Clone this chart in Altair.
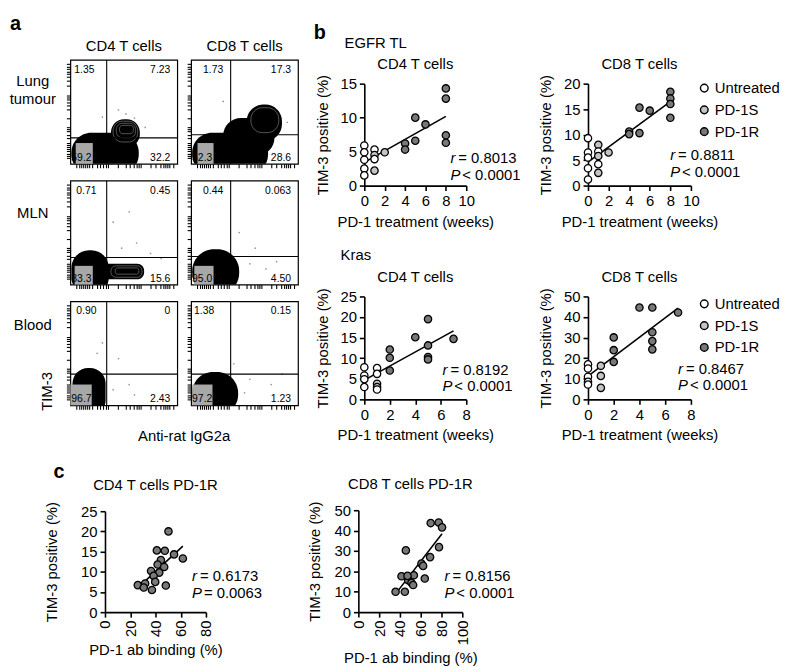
import altair as alt
import pandas as pd

FONT = "Liberation Sans"
GROUPS = ["Untreated", "PD-1S", "PD-1R"]
GROUP_FILLS = ["#ffffff", "#c4c4c4", "#787878"]

# ---------------- panel b : EGFR TL ----------------
egfr_cd4_weeks = [0, 0, 0, 0, 0, 1, 1, 1, 1, 2, 4, 4, 5, 5, 6, 8, 8, 8, 8]
egfr_cd4_tim3 = [5.9, 4.9, 3.8, 2.5, 1.5, 5.3, 4.5, 3.9, 2.2, 4.9, 6.2, 5.3, 10.0, 6.6, 9.0, 14.3, 12.8, 7.4, 6.3]
egfr_cd4_group = ["Untreated"] * 5 + ["Untreated", "PD-1S", "Untreated", "PD-1S", "PD-1S"] + ["PD-1R"] * 9

egfr_cd8_weeks = [0, 0, 0, 0, 0, 1, 1, 1, 1, 1, 2, 4, 4, 5, 5, 6, 8, 8, 8, 8]
egfr_cd8_tim3 = [9.3, 6.5, 5.5, 3.4, 1.2, 8.0, 6.7, 5.8, 4.2, 2.5, 6.5, 10.6, 10.1, 15.3, 10.3, 14.7, 18.4, 17.1, 16.0, 13.3]
egfr_cd8_group = ["Untreated"] * 5 + ["PD-1S", "Untreated", "PD-1S", "Untreated", "PD-1S"] + ["PD-1S"] + ["PD-1R"] * 9

# ---------------- panel b : Kras ----------------
kras_cd4_weeks = [0, 0, 0, 0, 1, 1, 1, 1, 1, 2, 2, 2, 4, 5, 5, 5, 5, 7]
kras_cd4_tim3 = [7.8, 5.8, 4.9, 3.0, 7.6, 6.2, 3.8, 3.0, 2.4, 12.1, 10.1, 7.0, 15.1, 19.5, 13.1, 10.3, 9.7, 14.7]
kras_cd4_group = ["Untreated"] * 4 + ["Untreated", "Untreated", "PD-1S", "PD-1S", "Untreated"] + ["PD-1R"] * 9

kras_cd8_weeks = [0, 0, 0, 0, 0, 1, 1, 1, 2, 2, 2, 4, 5, 5, 5, 5, 7]
kras_cd8_tim3 = [17.0, 15.0, 11.0, 8.5, 7.2, 16.3, 11.4, 5.6, 30.1, 23.9, 18.2, 44.6, 44.6, 32.6, 28.3, 24.3, 42.2]
kras_cd8_group = ["Untreated"] * 5 + ["PD-1S"] * 3 + ["PD-1R"] * 9

# ---------------- panel c : PD-1R ----------------
c_cd4_binding = [50.3, 41.1, 47.4, 54.7, 61.7, 44.3, 41.7, 46.9, 36.5, 43.0, 38.5, 39.8, 26.0, 31.8, 30.7, 37.2, 48.2]
c_cd4_tim3 = [20.0, 15.3, 15.2, 14.3, 13.3, 12.9, 11.8, 11.2, 10.2, 9.8, 9.0, 7.5, 6.7, 7.1, 6.1, 5.5, 6.6]
c_cd8_binding = [35.8, 44.7, 41.5, 45.7, 47.9, 51.1, 53.4, 52.7, 60.7, 62.3, 63.9, 69.0, 69.6, 77.3, 80.5, 77.6, 47.3]
c_cd8_tim3 = [10.0, 10.0, 17.6, 30.3, 15.7, 14.4, 18.1, 13.3, 23.8, 22.7, 16.5, 27.0, 43.7, 44.0, 41.6, 31.9, 17.8]

# ---------------- panel a : flow plots (0-100 display units) ----------------
flow_keys = ["lung_cd4", "lung_cd8", "mln_cd4", "mln_cd8", "blood_cd4", "blood_cd8"]
quad_x = [34, 37, 34, 37, 34, 37]
quad_y = [25, 28, 26, 27, 30, 30]
q_ul = ["1.35", "1.73", "0.71", "0.44", "0.90", "1.38"]
q_ur = ["7.23", "17.3", "0.45", "0.063", "0", "0.15"]
q_ll = ["59.2", "52.3", "83.3", "95.0", "96.7", "97.2"]
q_lr = ["32.2", "28.6", "15.6", "4.50", "2.43", "1.23"]

# dense event populations (outer contour extents)
blob_plot = ["lung_cd4", "lung_cd4", "lung_cd8", "lung_cd8", "lung_cd8",
             "mln_cd4", "mln_cd4", "mln_cd8", "blood_cd4", "blood_cd8"]
blob_x1 = [1, 38, 1, 30, 52, 1, 30, 1, 2, 1]
blob_x2 = [64, 65, 72, 78, 85, 36, 69, 45, 33, 44]
blob_y1 = [-10, 16, -10, 8, 22, -10, 5, -10, -10, -10]
blob_y2 = [30, 43, 30, 44, 57, 33, 20, 34, 36, 32]

# inner contour rings drawn over the populations
ring_plot = ["lung_cd4", "lung_cd4", "lung_cd4", "mln_cd4", "mln_cd4", "lung_cd8"]
ring_x1 = [40, 43, 46, 38, 42, 56]
ring_x2 = [63, 61, 59, 67, 64, 82]
ring_y1 = [21, 25, 29, 7, 10, 30]
ring_y2 = [41, 39, 37, 18, 16, 54]

gray_x1 = [5, 6, 4, 3, 0, 1]
gray_x2 = [21, 21, 21, 21, 20, 20]
gray_y2 = [20, 20, 18, 18, 20, 20]

dot_plot = ["lung_cd4"] * 5 + ["lung_cd8"] * 2 + ["mln_cd4"] * 6 + ["mln_cd8"] * 5 + ["blood_cd4"] * 6 + ["blood_cd8"] * 5
dot_x = [52, 60, 45, 70, 30, 90, 30, 40, 55, 62, 75, 85, 48, 55, 70, 80, 60, 45, 30, 45, 55, 40, 60, 25, 55, 75, 50, 40, 85]
dot_y = [48, 44, 52, 35, 45, 40, 60, 60, 70, 40, 30, 25, 35, 20, 15, 22, 35, 50, 60, 45, 20, 15, 10, 50, 25, 20, 12, 40, 30]

FLOW_TICKS = [6, 8, 10, 12, 14, 16, 18, 20, 25, 28, 31, 33, 35, 44, 52, 56, 59, 62, 64, 66,
              75, 80, 84, 87, 89, 91, 93, 96]

ONE = pd.DataFrame({"k": [0]})

# grid of cells (widths of columns, heights of rows)
COL_W = [62, 108, 14, 108, 67, 103, 123, 104]
ROW_H = [48, 105, 17, 105, 17, 105, 106, 103]


def label(text, x, y, size=15, align="left", baseline="middle", style=None, weight=None, angle=None):
    kw = dict(text=text, font=FONT, fontSize=size, align=align, baseline=baseline, color="black")
    if style:
        kw["fontStyle"] = style
    if weight:
        kw["fontWeight"] = weight
    if angle is not None:
        kw["angle"] = angle
    return alt.Chart(ONE).mark_text(**kw).encode(x=alt.value(x), y=alt.value(y))


def spacer(w, h):
    return alt.Chart(ONE).mark_point(size=1, opacity=0).encode(
        x=alt.value(0), y=alt.value(0)).properties(width=w, height=h)


A_W, A_H = 108, 105


def flow_cell(key, ul_dx, head=None, extra=()):
    i = flow_keys.index(key)
    sc = alt.Scale(domain=[0, 100], nice=False, zero=False)
    ax = alt.Axis(values=FLOW_TICKS, labels=False, title=None, domain=False, grid=False,
                  tickSize=4, tickColor="black", tickWidth=1.1)

    def X(f):
        return alt.X(f + ":Q", scale=sc, axis=ax)

    def Y(f):
        return alt.Y(f + ":Q", scale=sc, axis=ax)

    layers = []
    for p, x1, x2, y1, y2 in zip(blob_plot, blob_x1, blob_x2, blob_y1, blob_y2):
        if p != key:
            continue
        rad = min((x2 - x1) * A_W / 100, (y2 - y1) * A_H / 100) / 2 - 1
        bdf = pd.DataFrame({"x1": [x1], "x2": [x2], "y1": [y1], "y2": [y2]})
        layers.append(alt.Chart(bdf).mark_rect(color="black", cornerRadius=rad, clip=True).encode(
            x=X("x1"), x2="x2:Q", y=Y("y1"), y2="y2:Q"))
    for p, x1, x2, y1, y2 in zip(ring_plot, ring_x1, ring_x2, ring_y1, ring_y2):
        if p != key:
            continue
        rad = min((x2 - x1) * A_W / 100, (y2 - y1) * A_H / 100) / 2 - 1
        rdf = pd.DataFrame({"x1": [x1], "x2": [x2], "y1": [y1], "y2": [y2]})
        layers.append(alt.Chart(rdf).mark_rect(fillOpacity=0, stroke="#8c8c8c", strokeWidth=0.6,
                                               cornerRadius=rad).encode(
            x=X("x1"), x2="x2:Q", y=Y("y1"), y2="y2:Q"))
    gdf = pd.DataFrame({"x1": [gray_x1[i]], "x2": [gray_x2[i]], "y1": [0], "y2": [gray_y2[i]]})
    layers.append(alt.Chart(gdf).mark_rect(color="#a8a8a8").encode(
        x=X("x1"), x2="x2:Q", y=Y("y1"), y2="y2:Q"))
    ddf = pd.DataFrame({"p": dot_plot, "dx": dot_x, "dy": dot_y})
    ddf = ddf[ddf.p == key]
    layers.append(alt.Chart(ddf).mark_circle(size=3, color="#9a9a9a", opacity=1).encode(
        x=X("dx"), y=Y("dy")))
    qdf = pd.DataFrame({"qx": [quad_x[i]], "qy": [quad_y[i]]})
    layers.append(alt.Chart(qdf).mark_rule(color="black", strokeWidth=1.1).encode(x=X("qx")))
    layers.append(alt.Chart(qdf).mark_rule(color="black", strokeWidth=1.1).encode(y=Y("qy")))
    layers += [
        label(q_ul[i], ul_dx, 10, size=10.5),
        label(q_ur[i], A_W - 7, 10, size=10.5, align="right"),
        label(q_ll[i], 1, A_H - 6, size=10.5),
        label(q_lr[i], A_W - 7, A_H - 6, size=10.5, align="right"),
    ]
    if head:
        layers.append(label(head, A_W / 2, -9, align="center", baseline="alphabetic"))
    layers += list(extra)
    return alt.layer(*layers).properties(
        width=A_W, height=A_H, view=alt.ViewBackground(stroke="black", strokeWidth=1.2))


def sc_axis(values, ttl, offset, title_pad, angle=None):
    kw = dict(values=values, title=ttl, grid=False, domainColor="black", domainWidth=1.6,
              tickColor="black", tickWidth=1.6, tickSize=5, labelColor="black", labelFont=FONT,
              labelFontSize=15, titleFont=FONT, titleFontSize=15, titleFontWeight="normal",
              titleColor="black", labelPadding=3, titlePadding=title_pad, labelFlush=False,
              labelOverlap=False, offset=offset)
    if angle is not None:
        kw["labelAngle"] = angle
    return alt.Axis(**kw)


def scatter(x, y, g, xdom, ydom, xvals, yvals, cell, plot, head, head_off, r_txt, p_txt, stat,
            xtitle, p_sym="<", legend_y=None, xangle=None, ytitle_pad=10, extra=()):
    cw, ch = cell           # size of the grid cell
    ox, oy, pw, ph = plot   # plot area inside the cell
    df = pd.DataFrame({"x": x, "y": y, "g": g})
    xs = alt.Scale(domain=xdom, range=[ox, ox + pw], nice=False, zero=False)
    ys = alt.Scale(domain=ydom, range=[oy + ph, oy], nice=False, zero=False)
    xenc = alt.X("x:Q", scale=xs, axis=sc_axis(xvals, xtitle, oy + ph - ch, 6, angle=xangle))
    yenc = alt.Y("y:Q", scale=ys, axis=sc_axis(yvals, "TIM-3 positive (%)", -ox, ytitle_pad))
    base = alt.Chart(df)
    line = base.transform_regression("x", "y").mark_line(color="black", strokeWidth=1.6).encode(
        x=xenc, y=yenc)
    if legend_y is None:
        leg = None
    else:
        leg = alt.Legend(orient="none", legendX=ox + pw + 6, legendY=oy + legend_y, title=None,
                         padding=0, labelFont=FONT, labelFontSize=15, labelColor="black",
                         labelOffset=3, symbolType="circle", symbolSize=60,
                         symbolStrokeColor="black", symbolStrokeWidth=1.4, rowPadding=6)
    pts = base.mark_point(shape="circle", filled=True, size=55, stroke="black", strokeWidth=1.3,
                          opacity=1).encode(
        x=xenc, y=yenc,
        fill=alt.Fill("g:N", scale=alt.Scale(domain=GROUPS, range=GROUP_FILLS), legend=leg))
    sx, sy = ox + stat[0], oy + stat[1]
    texts = [
        label(head, ox + pw / 2, oy - head_off, align="center", baseline="alphabetic"),
        label("r", sx, sy, style="italic"),
        label("= " + r_txt, sx + 8, sy),
        label("P", sx, sy + 17, style="italic"),
        label(p_sym + " " + p_txt, sx + 12, sy + 17),
    ]
    extra_layers = [label(t, ox + dx, oy + dy, **kw) for (t, dx, dy, kw) in extra]
    return alt.layer(line, pts, *texts, *extra_layers).properties(width=cw, height=ch)


WEEKS_AXIS_10 = [0, 2, 4, 6, 8, 10]
WEEKS_AXIS_8 = [0, 2, 4, 6, 8]
XT = "PD-1 treatment (weeks)"
XT_C = "PD-1 ab binding (%)"
BOLD = dict(size=20, weight="bold", baseline="alphabetic")

# ---- panel a cells ----
lung_cd4 = flow_cell("lung_cd4", 4, head="CD4 T cells", extra=(
    label("a", -61, -30, **BOLD),
    label("Lung", -38, 21, align="center"),
    label("tumour", -38, 40, align="center"),
))
lung_cd8 = flow_cell("lung_cd8", 12, head="CD8 T cells")
mln_cd4 = flow_cell("mln_cd4", 6, extra=(label("MLN", -38, 33, align="center"),))
mln_cd8 = flow_cell("mln_cd8", 12)
blood_cd4 = flow_cell("blood_cd4", 6, extra=(
    label("Blood", -38, 24, align="center"),
    label("TIM-3", -24, 91, align="center", angle=270),
    label("Anti-rat IgG2a", 115, 136, align="center"),
))
blood_cd8 = flow_cell("blood_cd8", 3)

# ---- panel b cells (EGFR row sits 24px below the lung row, Kras 117px below the MLN row) ----
egfr_cd4 = scatter(egfr_cd4_weeks, egfr_cd4_tim3, egfr_cd4_group, [0, 10], [0, 15], WEEKS_AXIS_10,
                   [0, 5, 10, 15], (103, 105), (0, 24, 103, 103), "CD4 T cells", 14.5,
                   "0.8013", "0.0001", (87, 75), XT,
                   extra=[("b", -51, -45, BOLD), ("EGFR TL", -20, -41, {})])
egfr_cd8 = scatter(egfr_cd8_weeks, egfr_cd8_tim3, egfr_cd8_group, [0, 10], [0, 20], WEEKS_AXIS_10,
                   [0, 5, 10, 15, 20], (104, 105), (0, 24, 104, 103), "CD8 T cells", 14.5,
                   "0.8811", "0.0001", (83, 72), XT, legend_y=-3)
kras_cd4 = scatter(kras_cd4_weeks, kras_cd4_tim3, kras_cd4_group, [0, 8], [0, 25], WEEKS_AXIS_8,
                   [0, 5, 10, 15, 20, 25], (103, 105), (0, 117, 103, 104), "CD4 T cells", 14.5,
                   "0.8192", "0.0001", (79, 74), XT, extra=[("Kras", -24, -42, {})])
kras_cd8 = scatter(kras_cd8_weeks, kras_cd8_tim3, kras_cd8_group, [0, 8], [0, 50], WEEKS_AXIS_8,
                   [0, 10, 20, 30, 40, 50], (104, 105), (0, 117, 104, 104), "CD8 T cells", 14.5,
                   "0.8467", "0.0001", (91, 73), XT, legend_y=0)

# ---- panel c cells ----
c_cd4 = scatter(c_cd4_binding, c_cd4_tim3, ["PD-1R"] * len(c_cd4_binding), [0, 80], [0, 25],
                [0, 20, 40, 60, 80], [0, 5, 10, 15, 20, 25], (108, 103), (35, 1, 102, 102),
                "CD4 T cells PD-1R", 21.5, "0.6173", "0.0063", (88, 66), XT_C, p_sym="=", xangle=270,
                ytitle_pad=21, extra=[("c", -52, -34, BOLD)])
c_cd8 = scatter(c_cd8_binding, c_cd8_tim3, ["PD-1R"] * len(c_cd8_binding), [0, 100], [0, 50],
                [0, 20, 40, 60, 80, 100], [0, 10, 20, 30, 40, 50], (67, 103), (61, 0, 105, 103),
                "CD8 T cells PD-1R", 21.5, "0.8156", "0.0001", (87, 67), XT_C, xangle=270,
                ytitle_pad=12)

placed = {
    (1, 1): lung_cd4, (1, 3): lung_cd8, (1, 5): egfr_cd4, (1, 7): egfr_cd8,
    (3, 1): mln_cd4, (3, 3): mln_cd8, (3, 5): kras_cd4, (3, 7): kras_cd8,
    (5, 1): blood_cd4, (5, 3): blood_cd8,
    (7, 1): c_cd4, (7, 4): c_cd8,
}
cells = []
for r, h in enumerate(ROW_H):
    for c, w in enumerate(COL_W):
        cells.append(placed.get((r, c), spacer(w, h)))

chart = alt.concat(*cells, columns=len(COL_W), spacing=0, bounds="flush", align="each").resolve_scale(
    fill="independent").properties(padding=0).configure_view(strokeWidth=0)

chart.save("out.html", embed_options={"renderer": "svg", "actions": False})
